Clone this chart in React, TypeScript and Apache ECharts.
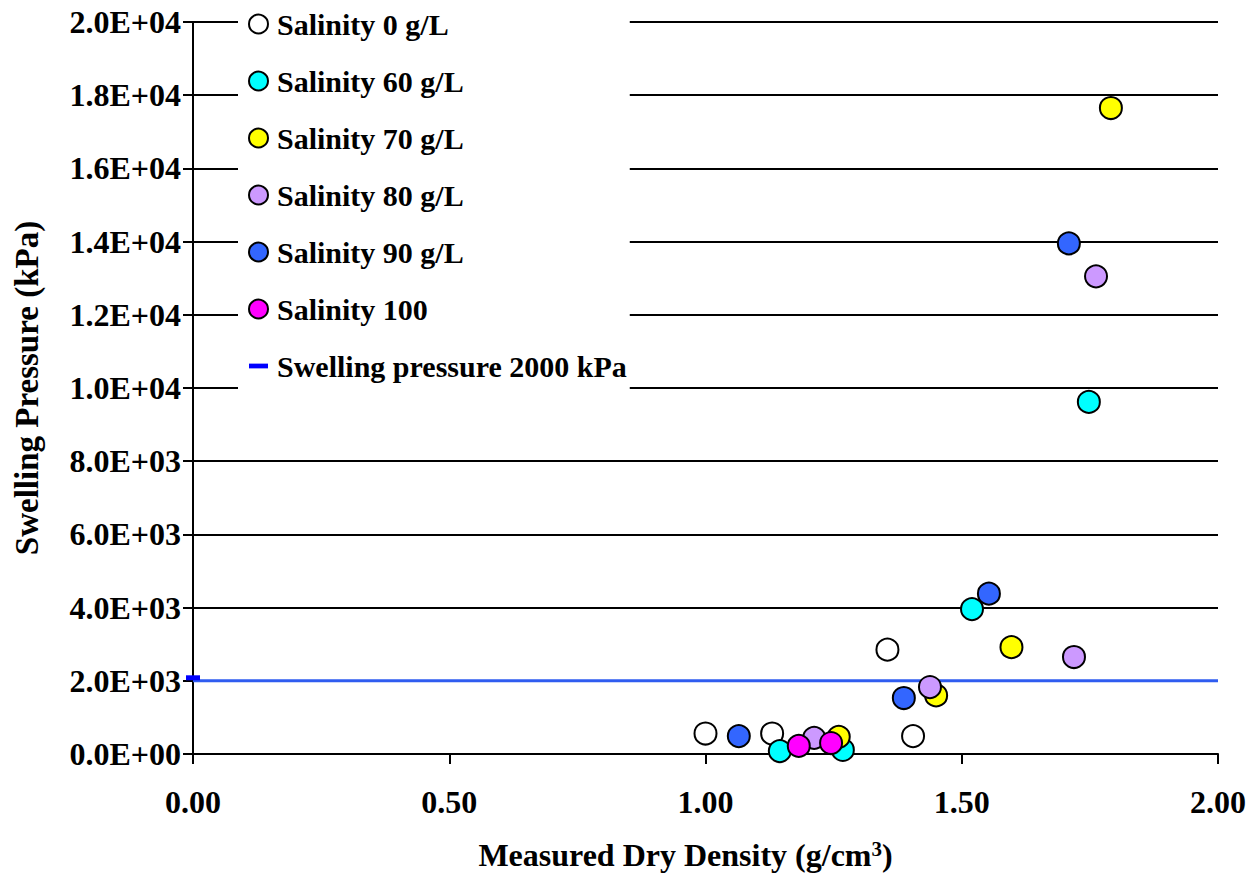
import React, { useEffect, useRef } from "react";
import * as echarts from "echarts";

const seriesNames = [
  "Salinity 0 g/L",
  "Salinity 60 g/L",
  "Salinity 70 g/L",
  "Salinity 80 g/L",
  "Salinity 90 g/L",
  "Salinity 100",
];
const seriesColors = ["#FFFFFF", "#00FFFF", "#FFFF00", "#CC99FF", "#3366FF", "#FF00FF"];

const sal0 = [[1.0, 560], [1.13, 560], [1.355, 2850], [1.405, 490]];
const sal60 = [[1.145, 80], [1.268, 110], [1.52, 3960], [1.748, 9620]];
const sal70 = [[1.26, 470], [1.45, 1600], [1.597, 2920], [1.791, 17650]];
const sal80 = [[1.212, 440], [1.438, 1830], [1.719, 2650], [1.762, 13050]];
const sal90 = [[1.065, 490], [1.387, 1530], [1.553, 4380], [1.709, 13950]];
const sal100 = [[1.182, 220], [1.245, 300]];
const seriesData = [sal0, sal60, sal70, sal80, sal90, sal100];

const limitName = "Swelling pressure 2000 kPa";
const limitValue = 2000;
const limitX = [0, 2];

const FONT = '"Liberation Serif", "Times New Roman", serif';

function sci(v: number): string {
  if (v === 0) return "0.0E+00";
  const e = Math.floor(Math.log10(v) + 1e-9);
  const m = v / Math.pow(10, e);
  return m.toFixed(1) + "E+" + String(e).padStart(2, "0");
}

export default function App() {
  const ref = useRef<HTMLDivElement>(null);
  useEffect(() => {
    if (!ref.current) return;
    const chart = echarts.init(ref.current, null, { renderer: "svg" });
    const scatterSeries = seriesNames.map((name, i) => ({
      name,
      type: "scatter",
      data: seriesData[i],
      symbol: "circle",
      symbolSize: 22,
      itemStyle: { color: seriesColors[i], borderColor: "#000", borderWidth: 2, opacity: 1 },
      z: 5,
    }));
    const lineSeries = {
      name: limitName,
      type: "line",
      data: [
        { value: [limitX[0], limitValue], symbol: "rect", symbolSize: [14, 5], symbolOffset: [0, -3] },
        { value: [limitX[1], limitValue], symbol: "none" },
      ],
      lineStyle: { color: "#2f5cf0", width: 3 },
      itemStyle: { color: "#0000FF" },
      z: 3,
    };
    const labelStyle = { fontFamily: FONT, fontSize: 32, fontWeight: "bold", color: "#000" };
    chart.setOption({
      animation: false,
      backgroundColor: "#fff",
      grid: { left: 193, right: 34, top: 22, bottom: 123 },
      legend: {
        orient: "vertical",
        left: 238,
        top: 0,
        padding: [9, 3, 12, 10],
        backgroundColor: "#fff",
        itemWidth: 19,
        itemHeight: 19,
        itemGap: 27,
        textStyle: { fontFamily: FONT, fontSize: 30, fontWeight: "bold", color: "#000", padding: [0, 0, 0, 4] },
        data: [
          ...seriesNames.map((n) => ({ name: n, icon: "circle" })),
          { name: limitName, icon: "path://M0,0H16V4H0Z", itemStyle: { color: "#0000FF", borderWidth: 0 } },
        ],
      },
      xAxis: {
        type: "value",
        min: 0,
        max: 2,
        interval: 0.5,
        name: "{a|Measured Dry Density (g/cm}{s|3}{a|)}",
        nameLocation: "middle",
        nameGap: 84,
        nameTextStyle: {
          fontFamily: FONT,
          fontSize: 32,
          fontWeight: "bold",
          color: "#000",
          padding: [0, 40, 0, 0],
          rich: {
            a: { fontFamily: FONT, fontSize: 32, fontWeight: "bold", color: "#000" },
            s: { fontFamily: FONT, fontSize: 21, fontWeight: "bold", color: "#000", verticalAlign: "top", padding: [0, 0, 12, 0] },
          },
        },
        axisLine: { show: true, lineStyle: { color: "#000", width: 2 } },
        axisTick: { show: true, inside: false, length: 10, lineStyle: { color: "#000", width: 2 } },
        axisLabel: { margin: 32, ...labelStyle, formatter: (v: number) => v.toFixed(2) },
        splitLine: { show: false },
      },
      yAxis: {
        type: "value",
        min: 0,
        max: 20000,
        interval: 2000,
        name: "Swelling Pressure (kPa)",
        nameLocation: "middle",
        nameGap: 150,
        nameTextStyle: { fontFamily: FONT, fontSize: 33, fontWeight: "bold", color: "#000" },
        axisLine: { show: true, lineStyle: { color: "#000", width: 2 } },
        axisTick: { show: true, inside: false, length: 10, lineStyle: { color: "#000", width: 2 } },
        axisLabel: { margin: 12, ...labelStyle, formatter: (v: number) => sci(v) },
        splitLine: { show: true, lineStyle: { color: "#000", width: 2 } },
      },
      series: [lineSeries, ...scatterSeries],
    });
    return () => chart.dispose();
  }, []);
  return <div ref={ref} style={{ position: "fixed", left: 0, top: 0, width: 1252, height: 877 }} />;
}
